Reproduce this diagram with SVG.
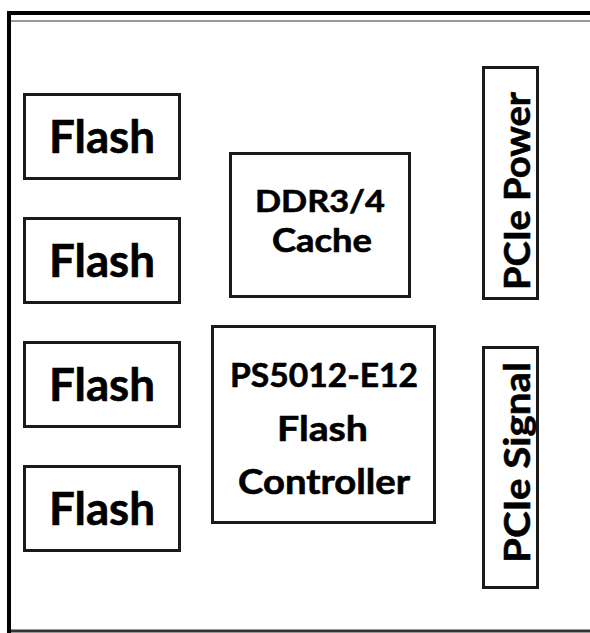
<svg xmlns="http://www.w3.org/2000/svg" width="590" height="633" viewBox="0 0 590 633">
<style>
.box{fill:#fff;stroke:#1a1a1a;stroke-width:3}
.t{font-family:Lato,"Open Sans","Liberation Sans",sans-serif;font-weight:bold;fill:#000;text-anchor:middle;stroke:#000;stroke-width:0.6}
</style>
<rect x="0" y="0" width="590" height="633" fill="#fff"/>
<g id="frame">
<line x1="7" y1="13" x2="590" y2="13" stroke="#000" stroke-width="4"/>
<line x1="11" y1="21" x2="590" y2="21" stroke="#777" stroke-width="1.6"/>
<line x1="9" y1="11" x2="9" y2="633" stroke="#000" stroke-width="4"/>
<line x1="11" y1="631" x2="590" y2="631" stroke="#333" stroke-width="3"/>
</g>
<g id="connectors"></g>
<g id="flash1"><rect class="box" x="24.5" y="94.5" width="155" height="84"/><text class="t" x="102" y="153" font-size="45" textLength="106" lengthAdjust="spacingAndGlyphs">Flash</text></g>
<g id="flash2"><rect class="box" x="24.5" y="218.5" width="155" height="84"/><text class="t" x="102" y="277" font-size="45" textLength="106" lengthAdjust="spacingAndGlyphs">Flash</text></g>
<g id="flash3"><rect class="box" x="24.5" y="342.5" width="155" height="84"/><text class="t" x="102" y="401" font-size="45" textLength="106" lengthAdjust="spacingAndGlyphs">Flash</text></g>
<g id="flash4"><rect class="box" x="24.5" y="466.5" width="155" height="84"/><text class="t" x="102" y="525" font-size="45" textLength="106" lengthAdjust="spacingAndGlyphs">Flash</text></g>
<g id="cache"><rect class="box" x="230.5" y="153.5" width="179" height="143"/>
<text class="t" x="320" y="212" font-size="31" textLength="130" lengthAdjust="spacingAndGlyphs">DDR3/4</text>
<text class="t" x="322" y="252" font-size="32" textLength="100" lengthAdjust="spacingAndGlyphs">Cache</text></g>
<g id="controller"><rect class="box" x="212.5" y="326.5" width="222" height="196"/>
<text class="t" x="324" y="387" font-size="33" textLength="188" lengthAdjust="spacingAndGlyphs">PS5012-E12</text>
<text class="t" x="322.5" y="441" font-size="35" textLength="91" lengthAdjust="spacingAndGlyphs">Flash</text>
<text class="t" x="324" y="494" font-size="34" textLength="172" lengthAdjust="spacingAndGlyphs">Controller</text></g>
<g id="pcie-power"><rect class="box" x="483.5" y="67.5" width="54" height="231"/>
<text class="t" transform="translate(530,191) rotate(-90)" x="0" y="0" font-size="37" textLength="198" lengthAdjust="spacingAndGlyphs">PCIe Power</text></g>
<g id="pcie-signal"><rect class="box" x="483.5" y="347.5" width="54" height="240"/>
<text class="t" transform="translate(530,462.5) rotate(-90)" x="0" y="0" font-size="37" textLength="201" lengthAdjust="spacingAndGlyphs">PCIe Signal</text></g>
</svg>
